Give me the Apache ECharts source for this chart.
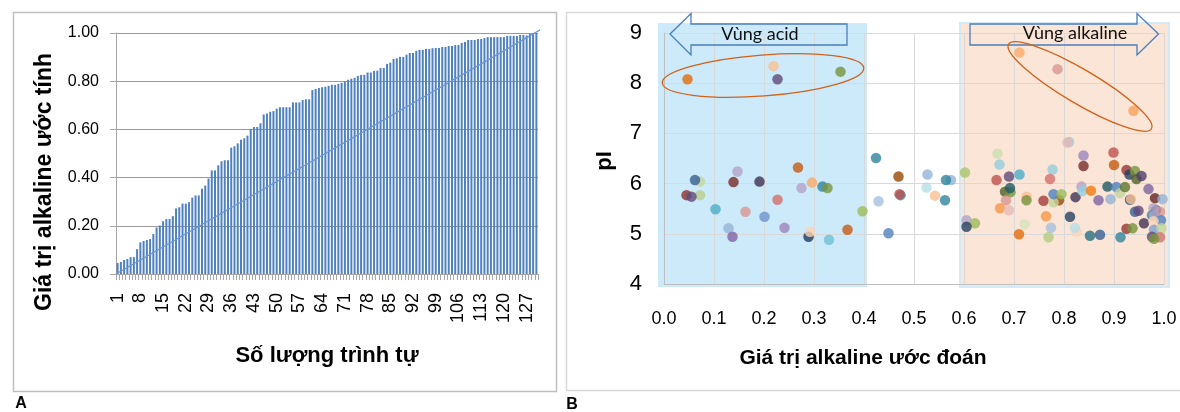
<!DOCTYPE html>
<html><head><meta charset="utf-8">
<script src="https://cdn.jsdelivr.net/npm/echarts@6/dist/echarts.min.js"></script>
<style>html,body{margin:0;padding:0;background:#fff}#c{width:1180px;height:412px}</style>
</head><body><div id="c"></div>
<script>
// ---- Panel A data ----
const sequenceLabels = Array.from({length: 130}, (_, i) => String(i + 1));
const alkalineEstimate = [
  0.046,0.050,0.058,0.062,0.070,0.070,0.103,0.131,0.137,0.141,
  0.145,0.166,0.193,0.201,0.219,0.228,0.228,0.240,0.272,0.277,
  0.292,0.292,0.298,0.317,0.326,0.326,0.354,0.367,0.396,0.430,
  0.430,0.451,0.468,0.472,0.472,0.524,0.530,0.542,0.557,0.563,
  0.574,0.602,0.610,0.610,0.625,0.662,0.666,0.673,0.676,0.686,
  0.692,0.692,0.692,0.692,0.712,0.712,0.712,0.722,0.725,0.725,
  0.763,0.768,0.772,0.775,0.777,0.781,0.785,0.785,0.789,0.793,
  0.799,0.806,0.810,0.814,0.822,0.826,0.826,0.836,0.836,0.843,
  0.844,0.855,0.855,0.872,0.877,0.892,0.895,0.901,0.901,0.910,
  0.917,0.917,0.926,0.930,0.930,0.934,0.934,0.937,0.938,0.938,
  0.942,0.942,0.946,0.946,0.950,0.950,0.959,0.963,0.971,0.971,
  0.971,0.975,0.975,0.979,0.983,0.983,0.983,0.983,0.983,0.983,
  0.988,0.988,0.988,0.988,0.992,0.992,0.990,0.996,0.996,1.000
];
const diagonalLine = [[0, 0], [130.7, 1.013]];
const yTicksA = [0, 0.2, 0.4, 0.6, 0.8, 1.0];

// ---- Panel B data ----
const predictedAlkaline = [
  0.047,0.219,0.227,0.353,0.072,0.062,0.045,0.072,0.055,0.103,
  0.129,0.137,0.147,0.139,0.163,0.191,0.201,0.227,0.241,0.268,
  0.275,0.296,0.317,0.327,0.289,0.292,0.330,0.367,0.397,0.424,
  0.429,0.449,0.469,0.473,0.471,0.527,0.525,0.542,0.562,0.574,
  0.564,0.602,0.605,0.622,0.605,0.667,0.671,0.665,0.690,0.711,
  0.682,0.693,0.692,0.684,0.672,0.690,0.725,0.725,0.721,0.710,
  0.777,0.772,0.759,0.790,0.779,0.779,0.795,0.764,0.774,0.769,
  0.810,0.807,0.812,0.823,0.825,0.822,0.835,0.837,0.839,0.839,
  0.854,0.869,0.852,0.872,0.887,0.905,0.893,0.912,0.922,0.899,
  0.900,0.913,0.925,0.931,0.942,0.945,0.955,0.969,0.932,0.934,
  0.942,0.949,0.925,0.937,0.960,0.982,0.997,0.984,0.992,0.979,
  0.976,0.980,0.994,0.979,0.980,0.995,0.976,0.992,0.980,0.711,
  0.787,0.939
];
const pIValues = [
  8.08,8.34,8.08,8.23,6.04,6.07,5.77,5.77,5.74,5.49,
  5.11,4.94,6.24,6.03,5.44,6.04,5.34,5.68,5.12,6.32,
  5.91,6.02,5.94,5.91,4.94,5.04,4.88,5.08,5.45,6.51,
  5.65,5.01,6.14,5.77,5.79,6.18,5.92,5.76,5.67,6.07,
  6.07,6.22,5.27,5.21,5.14,6.60,6.38,6.07,6.14,6.18,
  5.84,5.83,5.91,5.67,5.51,5.47,5.74,5.67,5.19,4.99,
  6.28,6.09,5.66,5.67,5.63,5.79,5.79,5.35,5.12,4.93,
  6.83,6.82,5.34,5.73,5.04,5.12,5.94,5.85,6.56,6.35,
  5.86,5.67,4.96,4.98,5.94,5.93,5.69,5.81,5.93,6.62,
  6.37,4.93,6.27,6.18,6.25,6.09,6.15,5.89,5.68,5.69,
  5.44,5.46,5.10,5.11,5.21,5.71,5.69,5.47,5.44,5.51,
  5.37,5.37,5.27,5.25,5.08,5.11,4.94,4.93,4.90,8.61,
  8.28,7.45
];
const pointColors = [
  '#e46c0a','#fac090','#604a7b','#77933c','#c3d69b','#376092','#8b3230','#b8cf8a','#604a7b','#4bacc6',
  '#95b3d7','#8064a2','#b3a2c7','#7a2a28','#d99694','#403152','#6d94cc','#d46f6c','#9c84bc','#c55a11',
  '#b3a2c7','#f9aa6c','#31859c','#77933c','#1f3a5f','#fcd5b5','#6fc0d2','#c55a11','#9bbb59','#31859c',
  '#a6bfe0','#4f81bd','#984807','#31859c','#c0504d','#95b3d7','#b7dee8','#fac090','#31859c','#95b3d7',
  '#31859c','#a9c46c','#b3a2c7','#9bbb59','#254061','#cddfae','#93cddd','#c0504d','#604a7b','#4bacc6',
  '#4f6228','#77933c','#215968','#d99694','#f79646','#e6b9b8','#fac090','#77933c','#d7e4bd','#e46c0a',
  '#93cddd','#d46f6c','#a33b39','#984807','#c3d69b','#4f81bd','#9bbb59','#f79646','#a6bfe0','#b3cc82',
  '#93cddd','#e6b9b8','#254061','#403152','#fcd5b5','#b7dee8','#b3a2c7','#93cddd','#9c84bc','#772c2a',
  '#f47a12','#8064a2','#2b6f80','#376092','#215968','#4f81bd','#95b3d7','#c3d69b','#5e7530','#c0504d',
  '#c55a11','#31859c','#953735','#254061','#77933c','#4f6228','#503d6b','#8064a2','#1f497d','#fac090',
  '#376092','#604a7b','#953735','#77933c','#403152','#632523','#95b3d7','#254061','#d99694','#b3a2c7',
  '#31859c','#b3a2c7','#4f81bd','#fcd5b5','#7f9fd6','#c3d69b','#604a7b','#d07070','#77933c','#fbab67',
  '#d99694','#f9a05a'
];
const acidBand = [[-0.012, 3.94], [0.406, 9.2]];
const alkalineBand = [[0.592, 3.94], [1.01, 9.2]];

const FONT = '"Liberation Sans", Arial, sans-serif';
const chart = echarts.init(document.getElementById('c'), null, {renderer: 'canvas'});

const scatterData = predictedAlkaline.map((x, i) => ({
  value: [x, pIValues[i]],
  itemStyle: {color: pointColors[i]}
}));

chart.setOption({
  animation: false,
  textStyle: {fontFamily: FONT},
  grid: [
    {left: 116, top: 33, width: 422, height: 241},
    {left: 664, top: 33, width: 500, height: 251}
  ],
  xAxis: [
    {type: 'category', gridIndex: 0, data: sequenceLabels, boundaryGap: true,
     axisLine: {lineStyle: {color: '#a6a6a6'}},
     axisTick: {show: true, interval: 0, length: 6, lineStyle: {color: '#a6a6a6'}},
     axisLabel: {interval: 6, rotate: 90, fontSize: 18, color: '#000', margin: 19, fontFamily: FONT}},
    {type: 'value', gridIndex: 1, min: 0, max: 1, interval: 0.1,
     axisLine: {show: true, lineStyle: {color: '#bfbfbf'}}, axisTick: {show: false},
     axisLabel: {formatter: v => v.toFixed(1), fontSize: 18, color: '#000', margin: 26, fontFamily: FONT},
     splitLine: {show: true, lineStyle: {color: '#d9d9d9'}}},
    {type: 'value', gridIndex: 0, min: 0, max: 130, show: false}
  ],
  yAxis: [
    {type: 'value', gridIndex: 0, min: yTicksA[0], max: yTicksA[yTicksA.length - 1], interval: 0.2,
     axisLine: {show: true, lineStyle: {color: '#a6a6a6'}},
     axisTick: {show: true, length: 6, lineStyle: {color: '#a6a6a6'}},
     axisLabel: {formatter: v => v.toFixed(2), fontSize: 16, color: '#000', margin: 17, fontFamily: FONT},
     splitLine: {show: true, lineStyle: {color: '#9a9a9a'}}},
    {type: 'value', gridIndex: 1, min: 4, max: 9, interval: 1,
     axisLine: {show: true, lineStyle: {color: '#bfbfbf'}}, axisTick: {show: false},
     axisLabel: {fontSize: 22, color: '#000', margin: 22, fontFamily: FONT},
     splitLine: {show: true, lineStyle: {color: '#d9d9d9'}}}
  ],
  series: [
    {type: 'bar', xAxisIndex: 0, yAxisIndex: 0, data: alkalineEstimate, barWidth: 2,
     itemStyle: {color: '#4f81bd'}},
    {type: 'line', xAxisIndex: 2, yAxisIndex: 0, data: diagonalLine, symbol: 'none', clip: false,
     lineStyle: {color: '#6a96d2', width: 1.2}, z: 3},
    {type: 'scatter', xAxisIndex: 1, yAxisIndex: 1, data: scatterData, symbolSize: 10.5, z: 4}
  ]
});

function px(p) { return chart.convertToPixel({gridIndex: 1}, p); }
function bandRect(b, fill, stroke) {
  const a = px(b[0]), c = px(b[1]);
  return {type: 'rect', z: -5, silent: true,
    shape: {x: Math.min(a[0], c[0]), y: Math.min(a[1], c[1]), width: Math.abs(c[0] - a[0]), height: Math.abs(c[1] - a[1])},
    style: {fill: fill, stroke: stroke, lineWidth: stroke ? 2 : 0}};
}

chart.setOption({
  graphic: [
    {type: 'rect', z: -6, shape: {x: 13.5, y: 12.5, width: 543, height: 379},
     style: {fill: 'none', stroke: '#bfbfbf', lineWidth: 1.5}},
    {type: 'rect', z: -6, shape: {x: 566.5, y: 12.5, width: 640, height: 378},
     style: {fill: 'none', stroke: '#d9d9d9', lineWidth: 1.5}},
    bandRect(acidBand, '#cdeafb', null),
    bandRect(alkalineBand, '#fbe5d6', '#d5eaf7'),
    // arrows
    {type: 'polygon', z: 10, shape: {points: [[670, 34], [691, 13.5], [691, 24], [847, 24], [847, 45], [691, 45], [691, 55]]},
     style: {fill: 'none', stroke: '#4a7ebb', lineWidth: 1.3}},
    {type: 'polygon', z: 10, shape: {points: [[1158.5, 34], [1137, 13.5], [1137, 24], [970, 24], [970, 45], [1137, 45], [1137, 55]]},
     style: {fill: 'none', stroke: '#4a7ebb', lineWidth: 1.3}},
    {type: 'text', z: 11, x: 760, y: 34, style: {text: 'Vùng acid', fontSize: 18, fontFamily: 'Lato, sans-serif', fill: '#111', align: 'center', verticalAlign: 'middle'}},
    {type: 'text', z: 11, x: 1075, y: 33, style: {text: 'Vùng alkaline', fontSize: 18, fontFamily: 'Lato, sans-serif', fill: '#111', align: 'center', verticalAlign: 'middle'}},
    // ellipses
    {type: 'ellipse', z: 10, x: 763, y: 75.5, rotation: 0.075, shape: {cx: 0, cy: 0, rx: 101, ry: 20.5},
     style: {fill: 'none', stroke: '#d0621a', lineWidth: 1.3}},
    {type: 'ellipse', z: 10, x: 1080, y: 86.5, rotation: -0.534, shape: {cx: 0, cy: 0, rx: 83, ry: 17},
     style: {fill: 'none', stroke: '#d0621a', lineWidth: 1.3}},
    // axis titles
    {type: 'text', z: 11, x: 45, y: 182, rotation: Math.PI / 2,
     style: {text: 'Giá trị alkaline ước tính', fontSize: 23, fontWeight: 'bold', fontFamily: FONT, fill: '#000', align: 'center', verticalAlign: 'middle'}},
    {type: 'text', z: 11, x: 327, y: 356,
     style: {text: 'Số lượng trình tự', fontSize: 22, fontWeight: 'bold', fontFamily: FONT, fill: '#000', align: 'center', verticalAlign: 'middle'}},
    {type: 'text', z: 11, x: 605, y: 161, rotation: Math.PI / 2,
     style: {text: 'pI', fontSize: 22, fontWeight: 'bold', fontFamily: FONT, fill: '#000', align: 'center', verticalAlign: 'middle'}},
    {type: 'text', z: 11, x: 863, y: 358,
     style: {text: 'Giá trị alkaline ước đoán', fontSize: 21, fontWeight: 'bold', fontFamily: FONT, fill: '#000', align: 'center', verticalAlign: 'middle'}},
    {type: 'text', z: 11, x: 21, y: 404,
     style: {text: 'A', fontSize: 16, fontWeight: 'bold', fontFamily: FONT, fill: '#000', align: 'center', verticalAlign: 'middle'}},
    {type: 'text', z: 11, x: 572, y: 405,
     style: {text: 'B', fontSize: 16, fontWeight: 'bold', fontFamily: FONT, fill: '#000', align: 'center', verticalAlign: 'middle'}}
  ]
});
</script>
</body></html>
